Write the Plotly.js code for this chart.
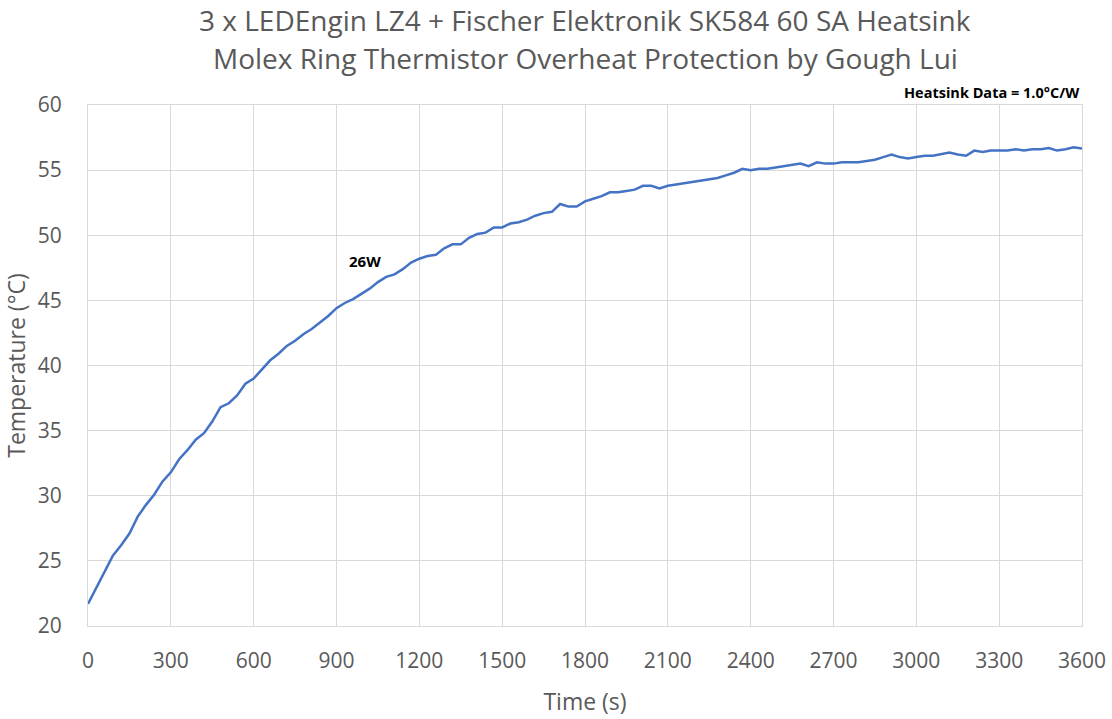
<!DOCTYPE html>
<html>
<head>
<meta charset="utf-8">
<script src="https://cdn.plot.ly/plotly-3.0.1.min.js"></script>
<style>html,body{margin:0;padding:0;background:#fff;}#chart{width:1112px;height:719px;}</style>
</head>
<body>
<div id="chart"></div>
<script>
const timeS = [0,30,60,90,120,150,180,210,240,270,300,330,360,390,420,450,480,510,540,570,600,630,660,690,720,750,780,810,840,870,900,930,960,990,1020,1050,1080,1110,1140,1170,1200,1230,1260,1290,1320,1350,1380,1410,1440,1470,1500,1530,1560,1590,1620,1650,1680,1710,1740,1770,1800,1830,1860,1890,1920,1950,1980,2010,2040,2070,2100,2130,2160,2190,2220,2250,2280,2310,2340,2370,2400,2430,2460,2490,2520,2550,2580,2610,2640,2670,2700,2730,2760,2790,2820,2850,2880,2910,2940,2970,3000,3030,3060,3090,3120,3150,3180,3210,3240,3270,3300,3330,3360,3390,3420,3450,3480,3510,3540,3570,3600];
const tempC = [21.7,22.9,24.1,25.4,26.2,27.1,28.4,29.3,30.1,31.1,31.8,32.8,33.5,34.3,34.8,35.7,36.8,37.1,37.7,38.6,39.0,39.7,40.4,40.9,41.5,41.9,42.4,42.8,43.3,43.8,44.4,44.8,45.1,45.5,45.9,46.4,46.8,47.0,47.4,47.9,48.2,48.4,48.5,49.0,49.3,49.3,49.8,50.1,50.2,50.6,50.6,50.9,51.0,51.2,51.5,51.7,51.8,52.4,52.2,52.2,52.6,52.8,53.0,53.3,53.3,53.4,53.5,53.8,53.8,53.6,53.8,53.9,54.0,54.1,54.2,54.3,54.4,54.6,54.8,55.1,55.0,55.1,55.1,55.2,55.3,55.45,55.5,55.3,55.6,55.5,55.5,55.6,55.6,55.6,55.7,55.8,56.0,56.2,56.0,55.9,56.0,56.1,56.1,56.2,56.35,56.2,56.1,56.5,56.4,56.5,56.5,56.5,56.6,56.5,56.6,56.6,56.7,56.5,56.6,56.75,56.65];
const xTicks = [0,300,600,900,1200,1500,1800,2100,2400,2700,3000,3300,3600];
const yTicks = [20,25,30,35,40,45,50,55,60];
const titleLines = ["3 x LEDEngin LZ4 + Fischer Elektronik SK584 60 SA Heatsink","Molex Ring Thermistor Overheat Protection by Gough Lui"];
const seriesLabel = "26W";
const noteText = "Heatsink Data = 1.0°C/W";

const fontFam = "Open Sans, Noto Sans, sans-serif";
const grey = "#595959";
const grid = "#d9d9d9";

const trace = {
  x: timeS, y: tempC, type: "scatter", mode: "lines",
  line: {color: "#4472C4", width: 2.5}, hoverinfo: "skip", showlegend: false
};

const layout = {
  width: 1112, height: 719,
  paper_bgcolor: "#fff", plot_bgcolor: "#fff",
  margin: {l: 88, r: 30, t: 105, b: 93},
  font: {family: fontFam, color: grey},
  xaxis: {
    range: [0, 3600], tickvals: xTicks, ticktext: xTicks.map(String),
    showgrid: true, gridcolor: grid, gridwidth: 1,
    showline: true, linecolor: grid, linewidth: 1, mirror: true,
    zeroline: false, ticks: "", tickfont: {size: 21, color: grey}, ticklabelstandoff: 16,
    title: {text: "Time (s)", font: {size: 23, color: grey}, standoff: 20}
  },
  yaxis: {
    range: [20, 60], tickvals: yTicks, ticktext: yTicks.map(String),
    showgrid: true, gridcolor: grid, gridwidth: 1,
    showline: true, linecolor: grid, linewidth: 1, mirror: true,
    zeroline: false, ticks: "", tickfont: {size: 21, color: grey}, ticklabelstandoff: 21,
    title: {text: "Temperature (°C)", font: {size: 23, color: grey}, standoff: 10}
  },
  annotations: [
    {x: 0.5, y: 1.163, xref: "paper", yref: "paper", xanchor: "center", yanchor: "middle",
     text: titleLines[0], showarrow: false, font: {size: 28, color: grey, family: fontFam}},
    {x: 0.5, y: 1.090, xref: "paper", yref: "paper", xanchor: "center", yanchor: "middle",
     text: titleLines[1], showarrow: false, font: {size: 28, color: grey, family: fontFam}},
    {x: 1003, y: 48.0, xref: "x", yref: "y", text: "<b>" + seriesLabel + "</b>", showarrow: false,
     font: {size: 15, color: "#000", family: fontFam}},
    {x: 1, y: 1, xref: "paper", yref: "paper", xanchor: "right", yanchor: "bottom", yshift: 1,
     text: "<b>" + noteText + "</b>", showarrow: false, font: {size: 14.5, color: "#000", family: fontFam}}
  ]
};

Plotly.newPlot("chart", [trace], layout, {displayModeBar: false, staticPlot: true});
</script>
</body>
</html>
